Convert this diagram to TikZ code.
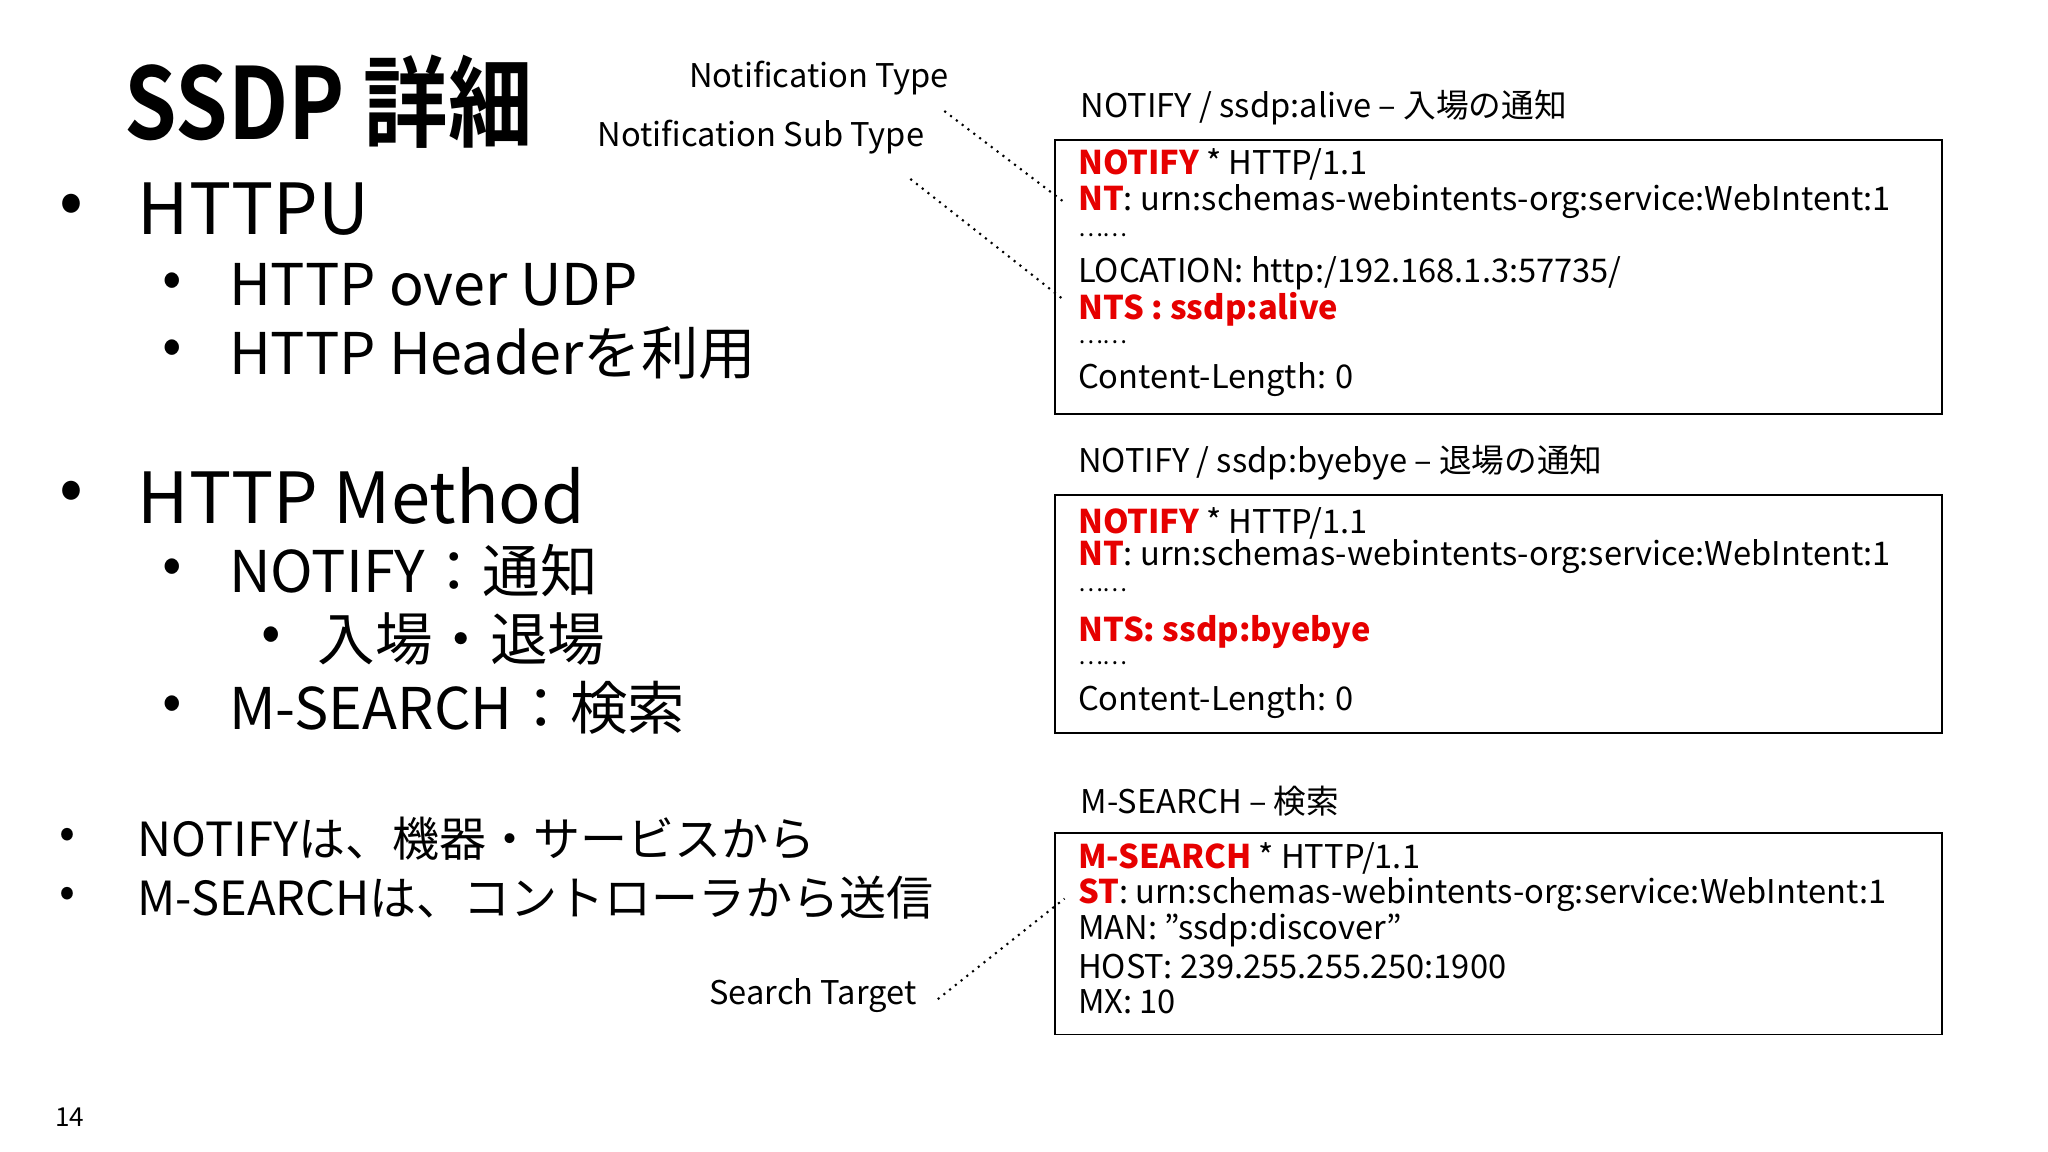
\documentclass[tikz,border=0pt]{standalone}
\usepackage{fontspec}
\setmainfont{Noto Sans CJK JP}
\newfontfamily\boldjp{Noto Sans CJK JP Bold}
\definecolor{hl}{RGB}{230,0,0}
\begin{document}
\begin{tikzpicture}[x=0.5pt,y=-0.5pt,
  txt/.style={anchor=west,inner sep=0pt,font=\fontsize{#1}{#1}\selectfont},
  bx/.style={anchor=west,inner sep=0pt,font=\fontsize{12.5}{13}\selectfont},
  dt/.style={anchor=west,inner sep=0pt,font=\fontsize{9}{9}\selectfont},
  lbl/.style={anchor=west,inner sep=0pt,font=\fontsize{12.5}{13}\selectfont},
  frame/.style={draw,line width=0.7pt},
  dots/.style={dotted,line width=0.8pt}]
\useasboundingbox (0,0) rectangle (1568,882);
% title
\node[txt=38,xscale=0.85] (title) at (95,78) {\boldjp SSDP 詳細};
% bullets
\node[txt=27] (b1) at (45,160) {•};
\node[txt=27] (t1) at (105,160) {HTTPU};
\node[txt=22] (b2) at (124,218) {•};
\node[txt=22] (t2) at (175,218) {HTTP over UDP};
\node[txt=22] (b3) at (124,270) {•};
\node[txt=22] (t3) at (175,270) {HTTP Headerを利用};
\node[txt=27] (b4) at (45,380) {•};
\node[txt=27] (t4) at (105,380) {HTTP Method};
\node[txt=22] (b5) at (124,437) {•};
\node[txt=22] (t5) at (175,437) {NOTIFY：通知};
\node[txt=22] (b6) at (200,489) {•};
\node[txt=22] (t6) at (243,489) {入場・退場};
\node[txt=22] (b7) at (124,542) {•};
\node[txt=22] (t7) at (175,542) {M-SEARCH：検索};
\node[txt=18] (b8) at (45,642) {•};
\node[txt=18] (t8) at (105,642) {NOTIFYは、機器・サービスから};
\node[txt=18] (b9) at (45,687) {•};
\node[txt=18] (t9) at (105,687) {M-SEARCHは、コントローラから送信};
\node[txt=10] (pg) at (42,855) {14};
% annotation labels
\node[lbl,anchor=east] (nt) at (727,60) {Notification Type};
\node[lbl,anchor=east] (nts) at (708,105) {Notification Sub Type};
\node[lbl,anchor=east] (st) at (702,762) {Search Target};
\coordinate (ntS) at (723,85); \coordinate (ntE) at (815,155);
\coordinate (ntsS) at (697,137); \coordinate (ntsE) at (815,230);
\coordinate (stS) at (718,765); \coordinate (stE) at (815,688);
\draw[dots] (ntS) -- (ntE);
\draw[dots] (ntsS) -- (ntsE);
\draw[dots] (stS) -- (stE);
% box 1
\node[lbl] (h1) at (827,82) {NOTIFY / ssdp:alive – 入場の通知};
\draw[frame] (808,107) rectangle (1487,317);
\node[bx] (a1) at (825,126) {\textcolor{hl}{\bfseries NOTIFY} * HTTP/1.1};
\node[bx] (a2) at (825,154) {\textcolor{hl}{\bfseries NT}: urn:schemas-webintents-org:service:WebIntent:1};
\node[dt] (a3) at (825,180) {……};
\node[bx] (a4) at (825,209) {LOCATION: http:/192.168.1.3:57735/};
\node[bx] (a5) at (825,237) {\textcolor{hl}{\bfseries NTS : ssdp:alive}};
\node[dt] (a6) at (825,262) {……};
\node[bx] (a7) at (825,291) {Content-Length: 0};
% box 2
\node[lbl] (h2) at (825,354) {NOTIFY / ssdp:byebye – 退場の通知};
\draw[frame] (808,379) rectangle (1487,561);
\node[bx] (c1) at (825,401) {\textcolor{hl}{\bfseries NOTIFY} * HTTP/1.1};
\node[bx] (c2) at (825,426) {\textcolor{hl}{\bfseries NT}: urn:schemas-webintents-org:service:WebIntent:1};
\node[dt] (c3) at (825,452) {……};
\node[bx] (c4) at (825,484) {\textcolor{hl}{\bfseries NTS: ssdp:byebye}};
\node[dt] (c5) at (825,508) {……};
\node[bx] (c6) at (825,537) {Content-Length: 0};
% box 3
\node[lbl] (h3) at (827,613) {M-SEARCH – 検索};
\draw[frame] (808,638) rectangle (1487,792);
\node[bx] (d1) at (825,657) {\textcolor{hl}{\bfseries M-SEARCH} * HTTP/1.1};
\node[bx] (d2) at (825,685) {\textcolor{hl}{\bfseries ST}: urn:schemas-webintents-org:service:WebIntent:1};
\node[bx] (d3) at (825,712) {MAN: \symbol{34}ssdp:discover\symbol{34}};
\node[bx] (d4) at (825,740) {HOST: 239.255.255.250:1900};
\node[bx] (d5) at (825,767) {MX: 10};
\end{tikzpicture}
\end{document}
